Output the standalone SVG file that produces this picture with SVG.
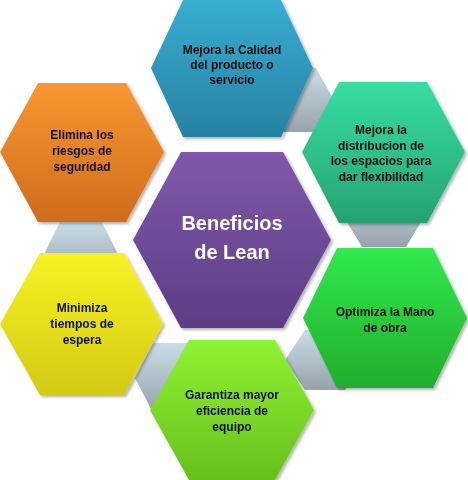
<svg xmlns="http://www.w3.org/2000/svg" width="468" height="480" viewBox="0 0 468 480">
<defs>
<linearGradient id="gBlue" x1="0" y1="0" x2="0" y2="1"><stop offset="0" stop-color="#38add2"/><stop offset="1" stop-color="#2682a2"/></linearGradient>
<linearGradient id="gTeal" x1="0" y1="0" x2="0" y2="1"><stop offset="0" stop-color="#37dea4"/><stop offset="1" stop-color="#26a274"/></linearGradient>
<linearGradient id="gOrange" x1="0" y1="0" x2="0" y2="1"><stop offset="0" stop-color="#f99732"/><stop offset="1" stop-color="#d06c1c"/></linearGradient>
<linearGradient id="gPurple" x1="0" y1="0" x2="0" y2="1"><stop offset="0" stop-color="#8058aa"/><stop offset="1" stop-color="#5d3d85"/></linearGradient>
<linearGradient id="gYellow" x1="0" y1="0" x2="0" y2="1"><stop offset="0" stop-color="#f8f223"/><stop offset="1" stop-color="#d2ca14"/></linearGradient>
<linearGradient id="gGreen" x1="0" y1="0" x2="0" y2="1"><stop offset="0" stop-color="#30ea4c"/><stop offset="1" stop-color="#22ac2e"/></linearGradient>
<linearGradient id="gLime" x1="0" y1="0" x2="0" y2="1"><stop offset="0" stop-color="#8ff232"/><stop offset="1" stop-color="#68c01c"/></linearGradient>
<linearGradient id="gGray" x1="0" y1="0" x2="0" y2="1"><stop offset="0" stop-color="#c9dde6"/><stop offset="1" stop-color="#97a2ab"/></linearGradient>
<filter id="sh" x="-10%" y="-10%" width="130%" height="130%"><feDropShadow dx="2" dy="2" stdDeviation="1.5" flood-color="#000" flood-opacity="0.3"/></filter>
</defs>
<style>
.lbl{font-family:"Liberation Sans",Arial,sans-serif;font-weight:bold;font-size:12px;fill:#111;text-anchor:middle}
.ctr{font-family:"Liberation Sans",Arial,sans-serif;font-weight:bold;font-size:20px;fill:#fff;text-anchor:middle}
.con{fill:url(#gGray)}
</style>
<rect width="468" height="480" fill="#fff"/>
<g id="connectors">
<polygon class="con" points="258,100 276,68 316,68 334,100 316,132 276,132"/>
<polygon class="con" points="344,217 362,187 406,187 424,217 406,247 362,247"/>
<polygon class="con" points="45,252 60,222 102,222 117,252 102,282 60,282"/>
<polygon class="con" points="135,378 153,343 188,343 206,378 188,413 153,413"/>
<polygon class="con" points="285,360 305,330 345,330 365,360 345,390 305,390"/>
</g>
<g id="n-calidad" filter="url(#sh)">
<polygon points="151,68 183,0 281,0 313,68 281,137 183,137" fill="url(#gBlue)"/>
<text class="lbl" x="232" y="54">Mejora la Calidad</text>
<text class="lbl" x="232" y="69">del producto o</text>
<text class="lbl" x="232" y="84">servicio</text>
</g>
<g id="n-distribucion" filter="url(#sh)">
<polygon points="302,152 339,82 427,82 465,152 427,223 339,223" fill="url(#gTeal)"/>
<text class="lbl" x="381" y="134">Mejora la</text>
<text class="lbl" x="381" y="149.5">distribucion de</text>
<text class="lbl" x="381" y="165">los espacios para</text>
<text class="lbl" x="381" y="180.5">dar flexibilidad</text>
</g>
<g id="n-riesgos" filter="url(#sh)">
<polygon points="0,152 38,83 126,83 164,152 126,222 38,222" fill="url(#gOrange)"/>
<text class="lbl" x="82" y="139">Elimina los</text>
<text class="lbl" x="82" y="155">riesgos de</text>
<text class="lbl" x="82" y="171">seguridad</text>
</g>
<g id="n-centro" filter="url(#sh)">
<polygon points="133,240 181,152 283,152 331,240 283,328 181,328" fill="url(#gPurple)"/>
<text class="ctr" x="232" y="230">Beneficios</text>
<text class="ctr" x="232" y="259">de Lean</text>
</g>
<g id="n-espera" filter="url(#sh)">
<polygon points="0,324 40,253 124,253 163,324 124,395 40,395" fill="url(#gYellow)"/>
<text class="lbl" x="82" y="312">Minimiza</text>
<text class="lbl" x="82" y="328">tiempos de</text>
<text class="lbl" x="82" y="344">espera</text>
</g>
<g id="n-mano" filter="url(#sh)">
<polygon points="303,318 337,248 433,248 467,318 433,388 337,388" fill="url(#gGreen)"/>
<text class="lbl" x="385" y="316">Optimiza la Mano</text>
<text class="lbl" x="385" y="332">de obra</text>
</g>
<g id="n-equipo" filter="url(#sh)">
<polygon points="150,410 189,340 275,340 314,410 275,480 189,480" fill="url(#gLime)"/>
<text class="lbl" x="232" y="399">Garantiza mayor</text>
<text class="lbl" x="232" y="415">eficiencia de</text>
<text class="lbl" x="232" y="431">equipo</text>
</g>
</svg>
